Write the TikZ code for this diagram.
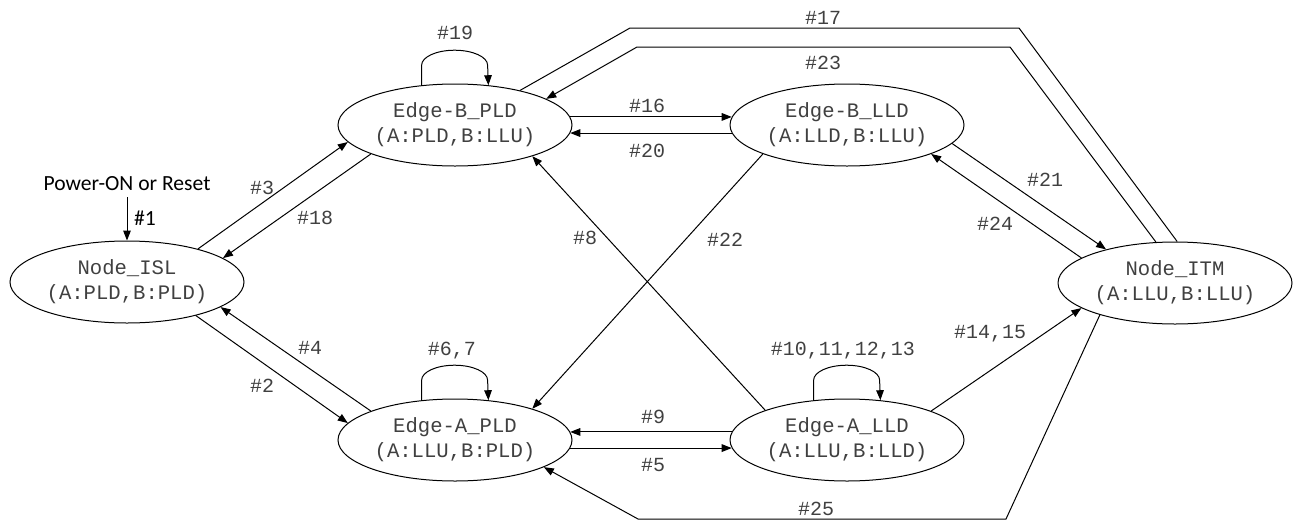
\documentclass[tikz,border=0pt]{standalone}
\usepackage{fontspec}
\newfontfamily\mono{Liberation Mono}
\newfontfamily\calib{Carlito}
\usetikzlibrary{arrows.meta,shapes.geometric}

\begin{document}
\begin{tikzpicture}[x=0.5pt,y=-0.5pt]
\tikzset{state/.style={ellipse,draw,line width=0.5pt,minimum width=117pt,minimum height=41pt,inner sep=0pt,align=center,text=black!75,font=\mono\fontsize{10.3}{12.5}\selectfont}}
\tikzset{num/.style={inner sep=0pt,text=black!75,font=\mono\fontsize{10}{12}\selectfont}}
\tikzset{trans/.style={-{Triangle[length=5pt,width=3.8pt]},line width=0.5pt}}
\tikzset{wire/.style={line width=0.5pt}}

\useasboundingbox (0,0) rectangle (1302,525);

% states
\node[state] (isl) at (127,282) {Node\_ISL\\(A:PLD,B:PLD)};
\node[state] (bpld) at (455,125) {Edge-B\_PLD\\(A:PLD,B:LLU)};
\node[state] (blld) at (847,125) {Edge-B\_LLD\\(A:LLD,B:LLU)};
\node[state] (itm) at (1175,283) {Node\_ITM\\(A:LLU,B:LLU)};
\node[state] (apld) at (455,440) {Edge-A\_PLD\\(A:LLU,B:PLD)};
\node[state] (alld) at (847,440) {Edge-A\_LLD\\(A:LLU,B:LLD)};

% start
\node[inner sep=0pt,font=\calib\fontsize{10.8}{12}\selectfont] (pwr) at (127,184) {Power-ON or Reset};
\node[inner sep=0pt,font=\calib\fontsize{10.8}{12}\selectfont] (l1) at (145,218) {\#1};
\draw[trans] ([yshift=-3pt]pwr.south) -- (isl.north);

% bends
\coordinate (c17a) at (630,28);
\coordinate (c17b) at (1019,28);
\coordinate (c23a) at (1010,47);
\coordinate (c23b) at (637,47);
\coordinate (c25a) at (1006,519);
\coordinate (c25b) at (638,519);

% transitions
\draw[trans] (isl.25) -- (bpld.189);
\draw[trans] (bpld.199) -- (isl.14);
\draw[trans] (isl.334) -- (apld.171);
\draw[trans] (apld.161) -- (isl.345);
\draw[trans] (bpld.4) -- (blld.176);
\draw[trans] (blld.184) -- (bpld.356);
\draw[trans] (alld.176) -- (apld.4);
\draw[trans] (apld.356) -- (alld.184);
\draw[trans] (alld.160) -- (bpld.338);
\draw[trans] (blld.199) -- (apld.22);
\draw[trans] (blld.350) -- (itm.154);
\draw[trans] (itm.165) -- (blld.341);
\draw[trans] (alld.19) -- (itm.195);
\draw[wire] (bpld.28) -- (c17a) -- (c17b) -- (itm.87);
\draw[trans] (itm.115) -- (c23a) -- (c23b) -- (bpld.16);
\draw[trans] (itm.203) -- (c25a) -- (c25b) -- (apld.343);

% loops
\draw[trans] (bpld.130) -- ++(0,-20) arc[start angle=180,end angle=360,x radius=33,y radius=15] -- (bpld.50);
\draw[trans] (apld.130) -- ++(0,-20) arc[start angle=180,end angle=360,x radius=33,y radius=15] -- (apld.50);
\draw[trans] (alld.130) -- ++(0,-20) arc[start angle=180,end angle=360,x radius=33,y radius=15] -- (alld.50);

% labels
\node[num] (l19) at (455,33) {\#19};
\node[num] (l67) at (452,351) {\#6,7};
\node[num] (l10) at (843,351) {\#10,11,12,13};
\node[num] (l16) at (647,106) {\#16};
\node[num] (l20) at (647,151) {\#20};
\node[num] (l9) at (653,417) {\#9};
\node[num] (l5) at (653,465) {\#5};
\node[num] (l17) at (823,18) {\#17};
\node[num] (l23) at (823,63) {\#23};
\node[num] (l25) at (816,509) {\#25};
\node[num] (l3) at (262,188) {\#3};
\node[num] (l18) at (315,218) {\#18};
\node[num] (l4) at (310,348) {\#4};
\node[num] (l2) at (262,386) {\#2};
\node[num] (l8) at (585,238) {\#8};
\node[num] (l22) at (725,240) {\#22};
\node[num] (l21) at (1045,180) {\#21};
\node[num] (l24) at (995,224) {\#24};
\node[num] (l14) at (990,334) {\#14,15};

\end{tikzpicture}
\end{document}
